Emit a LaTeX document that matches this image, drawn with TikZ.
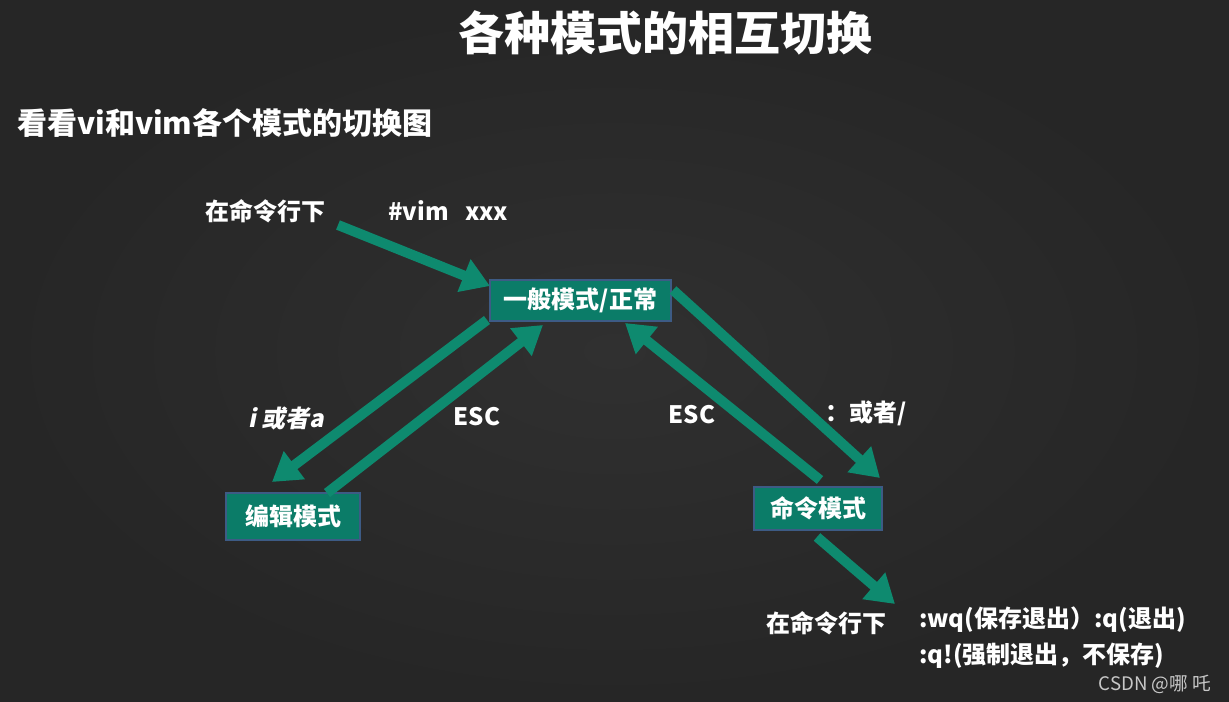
\documentclass[tikz,border=0pt]{standalone}
\usepackage{fontspec}
\setmainfont{Noto Sans CJK SC}
\newfontfamily\slantfont[FakeSlant=0.2]{Noto Sans CJK SC}
\usetikzlibrary{arrows.meta}
\definecolor{bg}{HTML}{303030}
\definecolor{bgedge}{HTML}{262626}
\definecolor{boxfill}{HTML}{0B7C68}
\definecolor{arrowc}{HTML}{0E8A6F}
\definecolor{boxline}{HTML}{3D5B85}
\definecolor{mark}{HTML}{C8C8C8}
\begin{document}
\begin{tikzpicture}[x=0.75pt,y=-0.75pt,
  mode/.style={draw=boxline, line width=1.5pt, fill=boxfill, text=white,
    font=\bfseries\fontsize{18}{20}\selectfont, inner sep=0pt},
  lbl/.style={text=white, font=\bfseries\fontsize{18}{20}\selectfont, inner sep=0pt},
  arr/.style={draw=arrowc, line width=7.5pt, -{Triangle[width=25pt,length=21pt]}}]
\useasboundingbox (0,0) rectangle (1229,702);
\fill[inner color=bg, outer color=bgedge] (0,0) rectangle (1229,702);

% titles
\node[lbl, font=\bfseries\fontsize{34.5}{38}\selectfont] (title) at (665,33) {各种模式的相互切换};
\node[lbl, anchor=west, font=\bfseries\fontsize{22.5}{25}\selectfont] (sub) at (17,123) {看看vi和vim各个模式的切换图};

% modes
\node[mode, minimum width=136pt, minimum height=31pt] (gen) at (580.5,300.5) {一般模式/正常};
\node[mode, minimum width=100.5pt, minimum height=35pt] (edit) at (293,516.5) {编辑模式};
\node[mode, minimum width=96pt, minimum height=32pt] (cmd) at (818,508.5) {命令模式};

% labels
\node[lbl] (shell) at (265,211) {在命令行下};
\node[lbl, anchor=west] (vim) at (388,211) {\#vim\ \ \ xxx};
\node[lbl, font=\slantfont\bfseries\fontsize{18}{20}\selectfont] (ia) at (286,418) {i 或者a};
\node[lbl] (esc1) at (477,417) {ESC};
\node[lbl] (esc2) at (692,415) {ESC};
\node[lbl] (colon) at (866,413) {：或者/};
\node[lbl] (shell2) at (826,623) {在命令行下};
\node[lbl, anchor=west] (wq) at (919,620) {:wq(保存退出）:q(退出)};
\node[lbl, anchor=west] (qq) at (919,656) {:q!(强制退出，不保存)};
\node[text=mark, inner sep=0pt, font=\fontsize{14}{16}\selectfont] (csdn) at (1155,684) {CSDN @哪 吒};

% connector ends
\coordinate (s1) at (338,225);  \coordinate (e1) at (490,286);
\coordinate (s2) at (487,320);  \coordinate (e2) at (272,482);
\coordinate (s3) at (327,493);  \coordinate (e3) at (543,325);
\coordinate (s4) at (673,290);  \coordinate (e4) at (880,478);
\coordinate (s5) at (820,480);  \coordinate (e5) at (625,323);
\coordinate (s6) at (817,537);  \coordinate (e6) at (895,604);

\draw[arr] (s1) -- (e1);
\draw[arr] (s2) -- (e2);
\draw[arr] (s3) -- (e3);
\draw[arr] (s4) -- (e4);
\draw[arr] (s5) -- (e5);
\draw[arr] (s6) -- (e6);
\end{tikzpicture}
\end{document}
